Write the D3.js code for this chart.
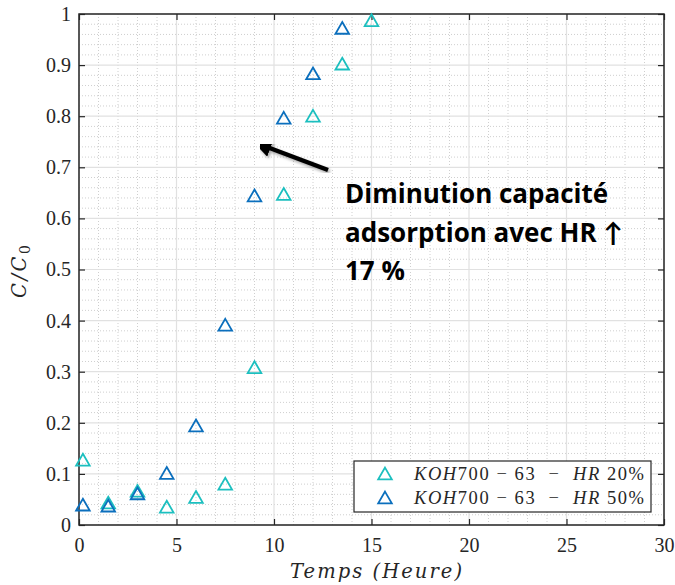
<!DOCTYPE html>
<html>
<head>
<meta charset="utf-8">
<script src="https://cdn.jsdelivr.net/npm/d3@7"></script>
<style>
	body { margin: 0; background: #fff; }
	svg { display: block; }
</style>
</head>
<body>
<script>
// data
var timeHR20 = [0.2, 1.5, 3, 4.5, 6, 7.5, 9, 10.5, 12, 13.5, 15];
var cHR20 = [0.127, 0.043, 0.066, 0.035, 0.054, 0.080, 0.308, 0.647, 0.800, 0.902, 0.987];
var timeHR50 = [0.2, 1.5, 3, 4.5, 6, 7.5, 9, 10.5, 12, 13.5];
var cHR50 = [0.039, 0.037, 0.061, 0.101, 0.194, 0.391, 0.644, 0.796, 0.883, 0.972];
var xTicks = [0, 5, 10, 15, 20, 25, 30];
var yTicks = [0, 0.1, 0.2, 0.3, 0.4, 0.5, 0.6, 0.7, 0.8, 0.9, 1];
var seriesNames = ["HR 20%", "HR 50%"];
var seriesColors = ["#1cbfbf", "#0b6fbd"];
var noteLines = ["Diminution capacité", "adsorption avec HR \u2191", "17 %"];

var svg = d3.select("body").append("svg")
	.attr("width", 675)
	.attr("height", 585);

var margin = {top: 14, right: 11, bottom: 60, left: 79},
	width = 675 - margin.left - margin.right,
	height = 585 - margin.top - margin.bottom,
	g = svg.append("g").attr("transform", "translate(" + margin.left + "," + margin.top + ")");

var x = d3.scaleLinear().domain([0, 30]).range([0, width]);
var y = d3.scaleLinear().domain([0, 1]).range([height, 0]);

function translate(a, b) {
	return "translate(" + a + "," + b + ")";
}

// minor grid (dotted)
var xMinor = d3.range(0, 31, 1).filter(function(d){ return d % 5 !== 0; });
var yMinor = d3.range(0, 51, 1).filter(function(d){ return d % 5 !== 0; }).map(function(d){ return d / 50; });

g.append("g").selectAll("line").data(xMinor).enter().append("line")
	.attr("x1", x).attr("x2", x).attr("y1", 0).attr("y2", height)
	.attr("stroke", "#cfcfcf").attr("stroke-width", 1).attr("stroke-dasharray", "1,2");
g.append("g").selectAll("line").data(yMinor).enter().append("line")
	.attr("y1", y).attr("y2", y).attr("x1", 0).attr("x2", width)
	.attr("stroke", "#cfcfcf").attr("stroke-width", 1).attr("stroke-dasharray", "1,2");

// major grid
g.append("g").selectAll("line").data(xTicks).enter().append("line")
	.attr("x1", x).attr("x2", x).attr("y1", 0).attr("y2", height)
	.attr("stroke", "#e1e1e1").attr("stroke-width", 1.2);
g.append("g").selectAll("line").data(yTicks).enter().append("line")
	.attr("y1", y).attr("y2", y).attr("x1", 0).attr("x2", width)
	.attr("stroke", "#e1e1e1").attr("stroke-width", 1.2);

// axes (ticks inside, box)
var tickFont = "Liberation Serif";
var labelFont = "DejaVu Serif";
var fmt = function(d){ return d === 0 ? "0" : d === 1 ? "1" : d3.format(".1f")(d); };

function styleAxis(sel, showText) {
	sel.attr("font-family", tickFont);
	sel.select(".domain").remove();
	sel.selectAll(".tick line").attr("stroke", "#262626").attr("stroke-width", 1.2);
	sel.selectAll(".tick text")
		.attr("font-family", tickFont)
		.attr("font-size", 20)
		.attr("fill", "#262626");
	if (!showText) sel.selectAll(".tick text").remove();
}

g.append("g").attr("transform", translate(0, height))
	.call(d3.axisBottom(x).tickValues(xTicks).tickSizeInner(-6).tickSizeOuter(0).tickPadding(13))
	.call(styleAxis, true);
g.append("g")
	.call(d3.axisTop(x).tickValues(xTicks).tickSizeInner(-6).tickSizeOuter(0))
	.call(styleAxis, false);
g.append("g")
	.call(d3.axisLeft(y).tickValues(yTicks).tickFormat(fmt).tickSizeInner(-6).tickSizeOuter(0).tickPadding(8))
	.call(styleAxis, true);
g.append("g").attr("transform", translate(width, 0))
	.call(d3.axisRight(y).tickValues(yTicks).tickSizeInner(-6).tickSizeOuter(0))
	.call(styleAxis, false);

g.append("rect")
	.attr("width", width).attr("height", height)
	.attr("fill", "none").attr("stroke", "#262626").attr("stroke-width", 1.5);

// axis labels
svg.append("text")
	.attr("x", 290).attr("y", 578)
	.attr("font-family", labelFont)
	.attr("font-style", "italic")
	.attr("font-size", 19.5)
	.attr("textLength", 172)
	.attr("lengthAdjust", "spacing")
	.attr("fill", "#262626")
	.text("Temps (Heure)");

var yl = svg.append("text")
	.attr("transform", translate(26, 298) + " rotate(-90)")
	.attr("font-family", labelFont)
	.attr("font-style", "italic")
	.attr("font-size", 19.5)
	.attr("fill", "#262626");
yl.append("tspan").attr("letter-spacing", 2.5).text("C/C");
yl.append("tspan").attr("font-size", 14).attr("font-style", "normal").attr("dy", 4).text("0");

// markers
var tri = d3.symbol().type(d3.symbolTriangle).size(80);
var series = [
	timeHR20.map(function(t, i){ return {t: t, c: cHR20[i]}; }),
	timeHR50.map(function(t, i){ return {t: t, c: cHR50[i]}; })
];

series.forEach(function(s, k) {
	g.append("g").selectAll("path").data(s).enter().append("path")
		.attr("d", tri)
		.attr("transform", function(d){ return translate(x(d.t), y(d.c) + 1.5); })
		.attr("fill", "none")
		.attr("stroke", seriesColors[k])
		.attr("stroke-width", 1.8);
});

// legend
var legend = svg.append("g").attr("transform", translate(354, 461));
legend.append("rect")
	.attr("width", 297).attr("height", 51)
	.attr("fill", "#fff").attr("stroke", "#262626").attr("stroke-width", 1.2);

var items = legend.selectAll(".item").data(seriesNames).enter().append("g")
	.attr("class", "item")
	.attr("transform", function(d, i){ return translate(0, 13 + i * 24); });

items.append("path")
	.attr("d", tri)
	.attr("transform", translate(31, 1.5))
	.attr("fill", "none")
	.attr("stroke", function(d, i){ return seriesColors[i]; })
	.attr("stroke-width", 1.8);

var lt = items.append("text")
	.attr("x", 60).attr("y", 6)
	.attr("font-family", tickFont)
	.attr("font-size", 18.5)
	.attr("textLength", 230)
	.attr("lengthAdjust", "spacing")
	.attr("fill", "#262626");
lt.append("tspan").attr("font-style", "italic").text("KOH");
lt.append("tspan").text("700 \u2212 63 \u00a0\u2212\u00a0 ");
lt.append("tspan").attr("font-style", "italic").text("HR");
lt.append("tspan").text(function(d){ return " " + d.split(" ")[1]; });

// annotation arrow
var defs = svg.append("defs");
defs.append("marker")
	.attr("id", "head")
	.attr("viewBox", "0 0 10 10")
	.attr("refX", 2).attr("refY", 5)
	.attr("markerWidth", 4).attr("markerHeight", 4)
	.attr("markerUnits", "strokeWidth")
	.attr("orient", "auto")
	.append("path").attr("d", "M0,0 L10,5 L0,10 Z").attr("fill", "#000");
defs.append("filter").attr("id", "shadow")
	.append("feDropShadow")
	.attr("dx", 1.5).attr("dy", 2).attr("stdDeviation", 1.5)
	.attr("flood-color", "#000").attr("flood-opacity", 0.35);

svg.append("line")
	.attr("x1", 328).attr("y1", 170)
	.attr("x2", 267).attr("y2", 147)
	.attr("stroke", "#000").attr("stroke-width", 4.5)
	.attr("marker-end", "url(#head)")
	.attr("filter", "url(#shadow)");

svg.append("g").selectAll("text").data(noteLines).enter().append("text")
	.attr("x", 345)
	.attr("y", function(d, i){ return 203 + i * 38.5; })
	.attr("font-family", "'Open Sans', Lato, sans-serif")
	.attr("font-weight", "bold")
	.attr("font-size", 26)
	.attr("fill", "#000")
	.text(function(d){ return d; });
</script>
</body>
</html>
